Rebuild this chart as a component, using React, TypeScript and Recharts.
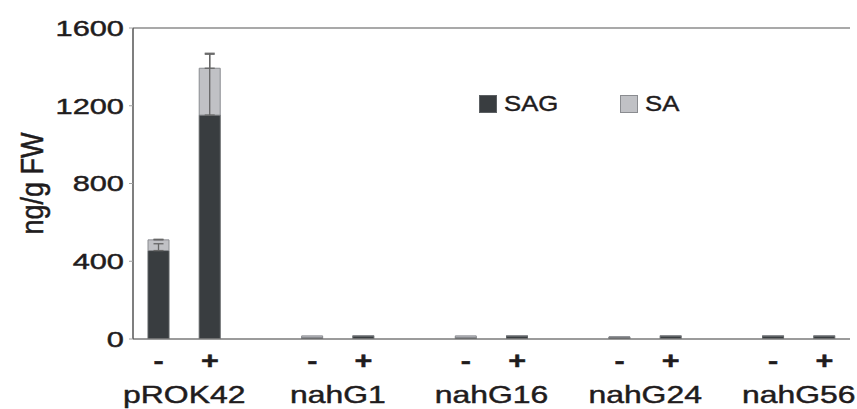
import { Bar, BarChart, ErrorBar, Label, Legend, ReferenceLine, XAxis, YAxis } from 'recharts';

const groups = ['pROK42', 'nahG1', 'nahG16', 'nahG24', 'nahG56'];
const treatments = ['-', '+'];
const seriesOrder = ['SAG', 'SA'];
// ng/g FW, ordered group by group, '-' then '+'
const sagValues = [455, 1152, 8, 16, 8, 16, 10, 16, 16, 16];
const saValues = [55, 241, 8, 2, 8, 2, 1, 2, 2, 2];
const sagErrors = [35, 313, null, null, null, null, null, null, null, null];
const saErrors = [3, 77, null, null, null, null, null, null, null, null];
const yTicks = [0, 400, 800, 1200, 1600];

const CHART_W = 857;
const CHART_H = 409;
const MARGIN = { top: 28, right: 7, left: 0, bottom: 0 };
const Y_AXIS_W = 133;
const X_AXIS_H = 70;
const FONT = '"Liberation Sans", Arial, sans-serif';
const INK = '#1f1c1d';
// the source figure is stretched sideways, so its text is too
const STRETCH = 1.33;

const COLORS = {
  SAG: { fill: '#393d40', stroke: '#5c6063' },
  SA: { fill: '#c0c1c5', stroke: '#8a8c90' },
};

interface Row {
  key: string;
  group?: string;
  sign?: string;
  SAG?: number;
  SA?: number;
  sagErr?: number[];
  saErr?: number[];
}

const rows: Row[] = [];
groups.forEach((g, gi) => {
  treatments.forEach((t, ti) => {
    const i = gi * treatments.length + ti;
    const se = sagErrors[i];
    const ae = saErrors[i];
    rows.push({
      key: g + t,
      group: g,
      sign: t,
      SAG: sagValues[i],
      SA: saValues[i],
      // one-sided (upward) error bars
      sagErr: se == null ? undefined : [0, se],
      saErr: ae == null ? undefined : [0, ae],
    });
  });
  // empty slot between strains
  if (gi < groups.length - 1) rows.push({ key: `gap${gi}` });
});

const SLOT = (CHART_W - Y_AXIS_W - MARGIN.right) / rows.length;

// slightly heavier text, the scan is a bit bolder than plain Arial
const textInk = { fill: INK, stroke: INK, strokeWidth: 0.45, fontFamily: FONT };

function CategoryTick({ x, y, payload }: any) {
  const row = rows.find((r) => r.key === payload?.value);
  if (!row?.sign) return null;
  return (
    <g>
      <text
        transform={`translate(${x},${y + 30}) scale(${STRETCH},1)`}
        textAnchor="middle" fontSize={23} fontWeight="bold" {...textInk}
      >
        {row.sign}
      </text>
      {row.sign === treatments[0] && (
        <text
          transform={`translate(${x + SLOT / 2},${y + 64}) scale(${STRETCH},1)`}
          textAnchor="middle" fontSize={24} {...textInk}
        >
          {row.group}
        </text>
      )}
    </g>
  );
}

function ValueTick({ x, y, payload }: any) {
  return (
    <text
      transform={`translate(${x},${y}) scale(1.4,1)`}
      textAnchor="end" dy="0.36em" fontSize={22} {...textInk}
    >
      {payload.value}
    </text>
  );
}

function YTitle({ viewBox }: any) {
  const cy = viewBox.y + viewBox.height / 2;
  return (
    <text
      transform={`translate(43,${cy}) rotate(-90) scale(1,1.15)`}
      textAnchor="middle" fontSize={27} {...textInk}
    >
      ng/g FW
    </text>
  );
}

function LegendBox({ payload }: any) {
  const items = [...(payload ?? [])].sort(
    (a: any, b: any) => seriesOrder.indexOf(a.value) - seriesOrder.indexOf(b.value),
  );
  return (
    <div style={{ display: 'flex', fontFamily: FONT, fontSize: 22, color: INK }}>
      {items.map((p: any) => {
        const c = COLORS[p.value as keyof typeof COLORS];
        return (
          <div key={p.value} style={{ display: 'flex', alignItems: 'center', width: 141 }}>
            <span
              style={{
                display: 'inline-block', width: 16, height: 16,
                background: c.fill, border: `1px solid ${c.stroke}`, marginRight: 7,
              }}
            />
            <span
              style={{
                display: 'inline-block', transform: 'scaleX(1.17)', transformOrigin: 'left center',
                WebkitTextStroke: `0.4px ${INK}`,
              }}
            >
              {p.value}
            </span>
          </div>
        );
      })}
    </div>
  );
}

export default function App() {
  return (
    <div style={{ position: 'absolute', left: 0, top: 0, background: '#fff' }}>
      <BarChart
        width={CHART_W}
        height={CHART_H}
        data={rows}
        margin={MARGIN}
        barSize={21}
      >
        <XAxis
          dataKey="key"
          height={X_AXIS_H}
          interval={0}
          tickLine={false}
          tickSize={0}
          tickMargin={0}
          axisLine={{ stroke: '#7a7a7a', strokeWidth: 1.5 }}
          tick={<CategoryTick />}
        />
        <YAxis
          width={Y_AXIS_W}
          domain={[0, 1600]}
          ticks={yTicks}
          allowDataOverflow
          tickSize={4}
          tickMargin={5}
          axisLine={{ stroke: '#555', strokeWidth: 1.5 }}
          tickLine={{ stroke: '#a0a0a0' }}
          tick={<ValueTick />}
        >
          <Label content={<YTitle />} />
        </YAxis>
        <YAxis
          yAxisId="frame"
          orientation="right"
          width={0}
          domain={[0, 1600]}
          tick={false}
          tickLine={false}
          axisLine={{ stroke: '#444', strokeWidth: 1.5 }}
        />
        <ReferenceLine y={1600} stroke="#8c8c8c" strokeWidth={1.5} />
        <Legend
          layout="horizontal"
          verticalAlign="middle"
          align="center"
          content={<LegendBox />}
          wrapperStyle={{ left: 479, top: 91, width: 'auto' }}
        />
        <Bar
          dataKey="SAG"
          name="SAG"
          stackId="s"
          fill={COLORS.SAG.fill}
          stroke={COLORS.SAG.stroke}
          strokeWidth={1}
          isAnimationActive={false}
        >
          <ErrorBar dataKey="sagErr" direction="y" width={5} stroke="#666" strokeWidth={1.3} />
        </Bar>
        <Bar
          dataKey="SA"
          name="SA"
          stackId="s"
          fill={COLORS.SA.fill}
          stroke={COLORS.SA.stroke}
          strokeWidth={1}
          isAnimationActive={false}
        >
          <ErrorBar dataKey="saErr" direction="y" width={5} stroke="#666" strokeWidth={1.3} />
        </Bar>
      </BarChart>
    </div>
  );
}
